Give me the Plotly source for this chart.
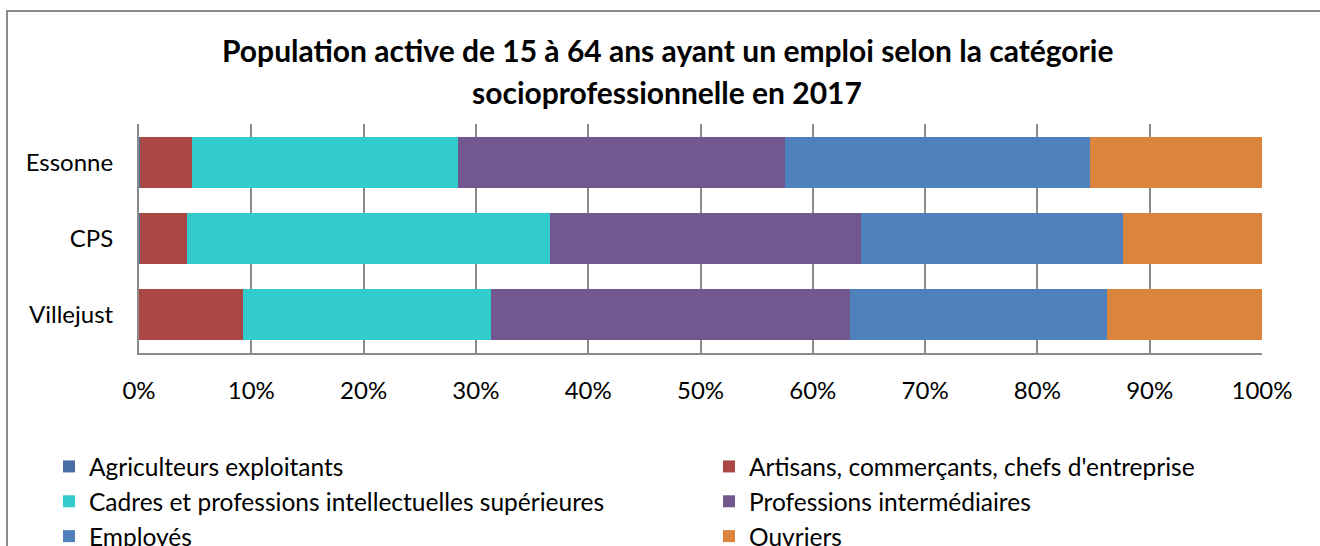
import plotly.graph_objects as go

# Territories (top to bottom)
territoires = ["Essonne", "CPS", "Villejust"]

# Share of employed population aged 15-64 by socio-professional category, 2017 (%)
agriculteurs = [0.1, 0.1, 0.0]
artisans = [4.6, 4.2, 9.3]
cadres = [23.7, 32.3, 22.0]
prof_intermediaires = [29.1, 27.7, 32.0]
employes = [27.2, 23.3, 22.9]
ouvriers = [15.3, 12.4, 13.8]

tick_vals = [0, 10, 20, 30, 40, 50, 60, 70, 80, 90, 100]
tick_text = ["0%", "10%", "20%", "30%", "40%", "50%", "60%", "70%", "80%", "90%", "100%"]

series = [
    ("Agriculteurs exploitants", agriculteurs, "#4A6FA5", "legend"),
    ("Artisans, commerçants, chefs d'entreprise", artisans, "#AA4744", "legend2"),
    ("Cadres et professions intellectuelles supérieures", cadres, "#33CCCC", "legend"),
    ("Professions intermédiaires", prof_intermediaires, "#72588E", "legend2"),
    ("Employés", employes, "#4F81BD", "legend"),
    ("Ouvriers", ouvriers, "#DB843D", "legend2"),
]

W, H = 1320, 546
L, R, T, B = 139, 58, 124, 193
PW, PH = W - L - R, H - T - B


def px_x(p):
    return (p - L) / PW


def px_y(p):
    return (H - B - p) / PH


fig = go.Figure()
for name, vals, color, leg in series:
    fig.add_trace(go.Bar(
        y=territoires, x=vals, name=name, orientation="h",
        marker=dict(color=color, line=dict(width=0)),
        legend=leg, legendgroup=name,
    ))

font_main = dict(family="Lato", size=24, color="#000000")
font_legend = dict(family="Lato", size=24.5, color="#000000")
font_title = dict(family="Lato", size=30, color="#000000")

# Chart frame
fig.add_shape(type="rect", xref="paper", yref="paper",
              x0=px_x(7), x1=px_x(1335), y0=px_y(570), y1=px_y(11),
              line=dict(color="#8a8a8a", width=2), fillcolor="rgba(0,0,0,0)", layer="below")

# Two-line title
fig.add_annotation(text="<b>Population active de 15 à 64 ans ayant un emploi selon la catégorie</b>",
                   xref="paper", yref="paper", x=px_x(667), y=px_y(50),
                   xanchor="center", yanchor="middle", showarrow=False, font=font_title)
fig.add_annotation(text="<b>socioprofessionnelle en 2017</b>",
                   xref="paper", yref="paper", x=px_x(667), y=px_y(92),
                   xanchor="center", yanchor="middle", showarrow=False, font=font_title)

legend_common = dict(
    orientation="v", font=font_legend, bgcolor="rgba(0,0,0,0)",
    traceorder="grouped", tracegroupgap=0, yanchor="top", xanchor="left",
    itemclick=False, itemdoubleclick=False,
)

fig.update_layout(
    width=W, height=H,
    margin=dict(l=L, r=R, t=T, b=B, autoexpand=False),
    paper_bgcolor="white", plot_bgcolor="white",
    barmode="stack", bargap=0.33,
    font=font_main,
    xaxis=dict(range=[0, 100], tickvals=tick_vals, ticktext=tick_text,
               showgrid=True, gridcolor="#8c8c8c", gridwidth=2,
               showline=True, linecolor="#8c8c8c", linewidth=2,
               zeroline=False, ticks="", ticklabelstandoff=15,
               tickfont=font_main, fixedrange=True),
    yaxis=dict(autorange="reversed", showgrid=False,
               showline=True, linecolor="#8c8c8c", linewidth=2,
               ticks="", ticklabelstandoff=19, tickfont=font_main, fixedrange=True),
    legend=dict(x=px_x(49), y=px_y(444), **legend_common),
    legend2=dict(x=px_x(709), y=px_y(444), **legend_common),
)

fig.write_html("out.html")
